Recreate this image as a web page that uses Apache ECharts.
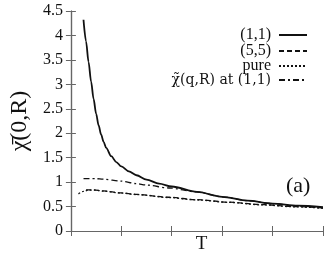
<!DOCTYPE html>
<html><head><meta charset="utf-8">
<script src="https://cdn.jsdelivr.net/npm/echarts@6/dist/echarts.min.js"></script>
<style>html,body{margin:0;padding:0;background:#fff}#c{width:332px;height:259px}</style>
</head><body><div id="c"></div>
<script>
const seriesNames = ['(1,1)', '(5,5)', 'pure', '\u03c7\u0303(q,R) at (1,1)'];
const s11 = [[0.25,4.32],[0.30,3.88],[0.35,3.46],[0.40,3.06],[0.45,2.70],[0.50,2.40],[0.55,2.16],[0.60,1.97],[0.65,1.82],[0.70,1.70],[0.80,1.53],[0.90,1.41],[1.00,1.32],[1.15,1.22],[1.30,1.14],[1.50,1.05],[1.75,0.97],[2.00,0.91],[2.50,0.80],[3.00,0.70],[3.50,0.62],[4.00,0.56],[4.50,0.52],[5.00,0.49]];
const s55 = [[0.3,0.84],[0.45,0.84],[0.64,0.82],[1.0,0.78],[1.29,0.75],[1.94,0.69],[2.5,0.64],[3.14,0.59],[3.79,0.54],[4.44,0.50],[5.0,0.47]];
const sPure = [[0.15,0.76],[0.25,0.81],[0.34,0.835],[0.5,0.835],[0.64,0.815],[1.0,0.775],[1.29,0.745],[1.94,0.685],[2.5,0.635],[3.14,0.585],[3.79,0.535],[4.44,0.495],[5.0,0.465]];
const sTilde = [[0.25,1.07],[0.5,1.07],[0.64,1.06],[1.0,1.02],[1.29,0.97],[1.5,0.94],[1.94,0.88],[2.5,0.80],[3.0,0.70],[3.5,0.62],[4.0,0.56],[4.5,0.51],[5.0,0.48]];
const yTicks = [0,0.5,1,1.5,2,2.5,3,3.5,4,4.5];
const FONT = "'Liberation Serif','DejaVu Serif',serif";
const AX = '#666';
const chart = echarts.init(document.getElementById('c'), null, {renderer:'canvas'});
const styles = [
  {width:1.8, type:'solid'},
  {width:1.3, type:[5,3]},
  {width:1.3, type:[2,2]},
  {width:1.3, type:[6,3,2,3]}
];
const datas = [s11, s55, sPure, sTilde];
const legendCenters = [34, 50, 65, 80];
const axisCommon = {
  type:'value', min:0, max:5, interval:1,
  axisLine:{show:true, lineStyle:{color:AX, width:1.2}},
  axisTick:{show:true, inside:true, length:5, lineStyle:{color:AX}},
  axisLabel:{show:false}, splitLine:{show:false}
};
chart.setOption({
  animation:false,
  backgroundColor:'#fff',
  title:{text:'(a)', left:286, top:175, padding:0, textStyle:{fontFamily:FONT, fontSize:22, fontWeight:'normal', color:'#111'}},
  legend: seriesNames.map((n,i)=>({
    data:[n], orient:'vertical', right:24, top:legendCenters[i]-7, align:'right', padding:0,
    itemWidth:28, itemHeight:14, selectedMode:false,
    itemStyle:{opacity:0},
    textStyle:{fontFamily: i===3 ? "'DejaVu Serif',serif" : FONT, fontSize: i===3 ? 14 : 16, color:'#111', padding:[0,3,0,0]}
  })),
  grid:{left:68, right:9, top:11, bottom:21},
  xAxis:[
    Object.assign({}, axisCommon, {position:'bottom', name:'T', nameLocation:'middle', nameGap:4,
      nameTextStyle:{fontFamily:FONT, fontSize:19, color:'#111', verticalAlign:'top', padding:[0,0,0,9]}}),
    Object.assign({}, axisCommon, {position:'top'})
  ],
  yAxis:[
    {type:'value', min:0, max:4.5, interval:0.5, position:'left',
      axisLine:{show:true, lineStyle:{color:AX, width:1.2}},
      axisTick:{show:true, inside:true, length:5, lineStyle:{color:AX}},
      axisLabel:{show:true, margin:8, fontFamily:FONT, fontSize:16, color:'#111',
        formatter:v=>String(v)},
      splitLine:{show:false},
      name:'\u03c7\u0304(0,R)', nameLocation:'middle', nameGap:38, nameRotate:90,
      nameTextStyle:{fontFamily:FONT, fontSize:24, color:'#111'}},
    {type:'value', min:0, max:4.5, interval:0.5, position:'right',
      axisLine:{show:true, lineStyle:{color:AX, width:1.2}},
      axisTick:{show:true, inside:true, length:5, lineStyle:{color:AX}},
      axisLabel:{show:false}, splitLine:{show:false}}
  ],
  series: seriesNames.map((n,i)=>({
    name:n, type:'line', xAxisIndex:0, yAxisIndex:0, data:datas[i],
    showSymbol:false, symbol:'none', smooth:0.3, smoothMonotone:'x',
    lineStyle:{color:'#111', width:styles[i].width, type:styles[i].type},
    itemStyle:{color:'#111'}, z: 4-i
  }))
});
</script></body></html>
